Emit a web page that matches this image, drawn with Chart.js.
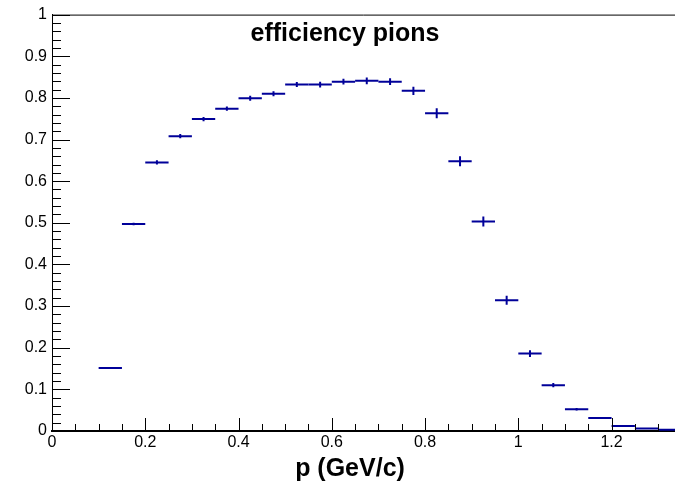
<!DOCTYPE html>
<html>
<head>
<meta charset="utf-8">
<script src="https://cdn.jsdelivr.net/npm/chart.js@4/dist/chart.umd.min.js"></script>
<style>
  html, body { margin: 0; padding: 0; background: #fff; overflow: hidden; }
  canvas { display: block; }
</style>
</head>
<body>
<canvas id="effChart" width="675" height="487"></canvas>
<script>
// efficiency pions — ROOT style histogram with error bars

const binLow  = [0.10, 0.15, 0.20, 0.25, 0.30, 0.35, 0.40, 0.45, 0.50, 0.55, 0.60, 0.65, 0.70,
                 0.75, 0.80, 0.85, 0.90, 0.95, 1.00, 1.05, 1.10, 1.15, 1.20, 1.25, 1.30];
const binHigh = [0.15, 0.20, 0.25, 0.30, 0.35, 0.40, 0.45, 0.50, 0.55, 0.60, 0.65, 0.70, 0.75,
                 0.80, 0.85, 0.90, 0.95, 1.00, 1.05, 1.10, 1.15, 1.20, 1.25, 1.30, 1.35];
const effValues = [0.151, 0.497, 0.645, 0.708, 0.749, 0.774, 0.799, 0.810, 0.832, 0.832, 0.839, 0.841, 0.839,
                   0.817, 0.763, 0.648, 0.503, 0.314, 0.186, 0.110, 0.052, 0.031, 0.012, 0.006, 0.003];
const effErrors = [0.000, 0.003, 0.005, 0.005, 0.005, 0.005, 0.006, 0.006, 0.006, 0.007, 0.007, 0.008, 0.008,
                   0.010, 0.012, 0.012, 0.012, 0.011, 0.008, 0.005, 0.003, 0.000, 0.000, 0.000, 0.000];

const xTicks      = [0, 0.2, 0.4, 0.6, 0.8, 1.0, 1.2];
const xTickLabels = ["0", "0.2", "0.4", "0.6", "0.8", "1", "1.2"];
const yTicks      = [0, 0.1, 0.2, 0.3, 0.4, 0.5, 0.6, 0.7, 0.8, 0.9, 1.0];
const yTickLabels = ["0", "0.1", "0.2", "0.3", "0.4", "0.5", "0.6", "0.7", "0.8", "0.9", "1"];

const TITLE   = "efficiency pions";
const X_TITLE = "p (GeV/c)";
const LINE_COLOR = "#000099";
const FONT = "'Liberation Sans', Arial, Helvetica, sans-serif";

// ── histogram marks: bin width line + vertical error bar ─────────────────
const histPlugin = {
  id: "histErrors",
  afterDatasetsDraw(chart) {
    const { ctx, scales: { x, y }, chartArea } = chart;
    ctx.save();
    ctx.beginPath();
    ctx.rect(chartArea.left, chartArea.top, chartArea.right - chartArea.left, chartArea.bottom - chartArea.top);
    ctx.clip();
    ctx.strokeStyle = LINE_COLOR;
    ctx.lineWidth = 2;
    effValues.forEach((v, i) => {
      const x0 = x.getPixelForValue(binLow[i]);
      const x1 = x.getPixelForValue(binHigh[i]);
      const yc = y.getPixelForValue(v);
      ctx.beginPath();
      ctx.moveTo(x0, yc);
      ctx.lineTo(x1, yc);
      ctx.stroke();
      if (effErrors[i] > 0) {
        const xm = x.getPixelForValue((binLow[i] + binHigh[i]) / 2);
        ctx.beginPath();
        ctx.moveTo(xm, y.getPixelForValue(v - effErrors[i]));
        ctx.lineTo(xm, y.getPixelForValue(v + effErrors[i]));
        ctx.stroke();
      }
    });
    ctx.restore();
  },
};

// ── ROOT frame: inward ticks, top line, titles ───────────────────────────
const framePlugin = {
  id: "rootFrame",
  afterDraw(chart) {
    const { ctx, scales: { x, y }, chartArea: a } = chart;
    ctx.save();
    ctx.strokeStyle = "#000";
    ctx.lineWidth = 1;

    // top frame line
    ctx.beginPath();
    ctx.moveTo(a.left, a.top + 0.5);
    ctx.lineTo(a.right, a.top + 0.5);
    ctx.stroke();

    // y ticks (major 0.1, minor 0.02), pointing right into the plot
    for (let k = 0; k <= 50; k++) {
      const py = Math.round(y.getPixelForValue(k * 0.02)) + 0.5;
      const len = k % 5 === 0 ? 18 : 9;
      ctx.beginPath();
      ctx.moveTo(a.left, py);
      ctx.lineTo(a.left + len, py);
      ctx.stroke();
    }
    // x ticks (major 0.2, minor 0.05), pointing up
    for (let k = 0; k * 0.05 <= x.max + 1e-9; k++) {
      const px = Math.round(x.getPixelForValue(k * 0.05)) + 0.5;
      const len = k % 4 === 0 ? 13 : 7;
      ctx.beginPath();
      ctx.moveTo(px, a.bottom);
      ctx.lineTo(px, a.bottom - len);
      ctx.stroke();
    }

    ctx.fillStyle = "#000";
    ctx.textAlign = "center";
    ctx.textBaseline = "middle";
    ctx.font = `bold 25px ${FONT}`;
    ctx.fillText(TITLE, 345, 34);
    ctx.font = `bold 25px ${FONT}`;
    ctx.fillText(X_TITLE, 350, 469);
    ctx.restore();
  },
};

const centers = binLow.map((lo, i) => ({ x: (lo + binHigh[i]) / 2, y: effValues[i] }));

new Chart(document.getElementById("effChart").getContext("2d"), {
  type: "scatter",
  data: {
    datasets: [{
      data: centers,
      pointRadius: 0,
      pointHoverRadius: 0,
      showLine: false,
    }],
  },
  options: {
    responsive: false,
    animation: false,
    events: [],
    layout: { padding: { top: 11, right: 0, left: 0, bottom: 0 } },
    plugins: {
      legend: { display: false },
      tooltip: { enabled: false },
    },
    scales: {
      x: {
        type: "linear",
        min: 0,
        max: 1.336,
        afterBuildTicks: s => { s.ticks = xTicks.map(v => ({ value: v })); },
        afterFit: s => { s.height = 56; },
        ticks: {
          color: "#000",
          font: { family: FONT, size: 16 },
          padding: 2,
          maxRotation: 0,
          autoSkip: false,
          callback: (v, i) => xTickLabels[i],
        },
        grid: { display: false, drawTicks: false },
        border: { display: true, color: "#000", width: 2 },
      },
      y: {
        min: 0,
        max: 1,
        afterBuildTicks: s => { s.ticks = yTicks.map(v => ({ value: v })); },
        afterFit: s => { s.width = 52; },
        ticks: {
          color: "#000",
          font: { family: FONT, size: 16 },
          padding: 5,
          autoSkip: false,
          callback: (v, i) => yTickLabels[i],
        },
        grid: { display: false, drawTicks: false },
        border: { display: true, color: "#000", width: 1 },
      },
    },
  },
  plugins: [histPlugin, framePlugin],
});
</script>
</body>
</html>
